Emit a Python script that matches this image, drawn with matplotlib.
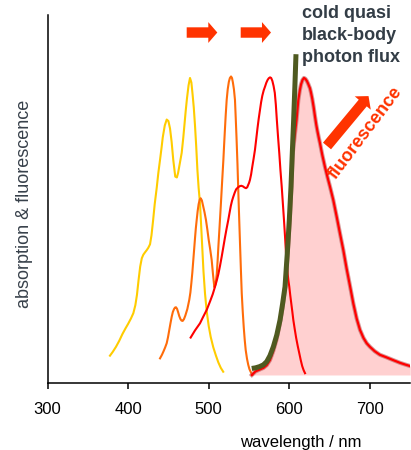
import matplotlib
matplotlib.use("Agg")
import matplotlib.pyplot as plt
from matplotlib.patches import FancyArrowPatch

plt.rcParams['font.family'] = ['Liberation Sans', 'DejaVu Sans']

# ---------------- data ----------------
yellow_x = [377.5, 381, 385, 389, 393, 397, 400, 403.5, 406.5, 409, 411, 413, 415, 417,
            418.9, 421, 423, 425, 427.2, 429, 431, 433, 435.5, 437.5, 439.6, 441.5, 443,
            445.5, 447.9, 450, 452, 454, 456, 458.5, 460.5, 462, 464, 466.5, 468.5, 470,
            471.5, 473, 475, 476.8, 478.5, 480, 481.5, 483, 484.5, 486, 487.5, 489.2,
            490.5, 492, 493.5, 495.4, 497.5, 500, 502.5, 505.7, 509, 512, 515, 518]
yellow_y = [0.065, 0.078, 0.095, 0.115, 0.138, 0.158, 0.172, 0.19, 0.208, 0.235, 0.27,
            0.32, 0.365, 0.393, 0.405, 0.413, 0.42, 0.428, 0.44, 0.47, 0.52, 0.575, 0.63,
            0.68, 0.724, 0.765, 0.80, 0.84, 0.86, 0.855, 0.83, 0.785, 0.725, 0.668, 0.665,
            0.68, 0.71, 0.748, 0.8, 0.845, 0.89, 0.93, 0.975, 1.0, 0.985, 0.945, 0.9, 0.84,
            0.77, 0.69, 0.63, 0.578, 0.51, 0.43, 0.35, 0.275, 0.215, 0.165, 0.128, 0.093,
            0.065, 0.042, 0.024, 0.011]

orange_x = [439.6, 442, 444, 446, 447.9, 449.5, 451, 452.5, 454.1, 455.5, 457, 458.2,
            459.4, 460.7, 462, 463.5, 465, 466.3, 467.7, 469.3, 471, 473.5, 475.9, 477.3,
            478.5, 479.7, 480.9, 482, 483, 484, 485.1, 486.3, 487.5, 488.8, 490, 491.5,
            493, 494.8, 496.6, 498.3, 500, 502, 503.7, 505.3, 507, 508.5, 510, 511, 512,
            513.5, 515, 516.6, 518.2, 519.1, 520, 521.1, 522.3, 523.6, 525, 526.3, 527.7,
            528.9, 530, 531.3, 532.6, 533.5, 534.5, 535.7, 536.8, 537.9, 539, 540, 541,
            542.2, 543.5, 544.7, 545.9, 547.5, 549, 550.5, 552, 554]
orange_y = [0.056, 0.068, 0.08, 0.093, 0.107, 0.127, 0.15, 0.173, 0.196, 0.212, 0.222,
            0.227, 0.228, 0.223, 0.212, 0.198, 0.188, 0.183, 0.182, 0.188, 0.2, 0.222,
            0.253, 0.278, 0.31, 0.345, 0.387, 0.425, 0.46, 0.493, 0.522, 0.552, 0.575,
            0.59, 0.595, 0.588, 0.57, 0.548, 0.522, 0.49, 0.455, 0.42, 0.387, 0.34, 0.295,
            0.305, 0.34, 0.382, 0.432, 0.5, 0.57, 0.648, 0.724, 0.773, 0.82, 0.875, 0.926,
            0.962, 0.987, 1.0, 1.005, 1.0, 0.985, 0.962, 0.926, 0.868, 0.8, 0.71, 0.612,
            0.52, 0.43, 0.35, 0.275, 0.215, 0.16, 0.118, 0.084, 0.055, 0.035, 0.02, 0.011,
            0.0]

red_x = [477.6, 483, 489.2, 493, 497.5, 502, 505, 507.8, 510, 512, 514, 516.1, 518,
         520, 522, 524.3, 526, 527.5, 529, 530.5, 532.3, 534, 536.5, 538.8, 540.5, 542.5,
         544.5, 546.3, 547.8, 549, 550.1, 551.2, 552.6, 554, 555.7, 557.4, 559, 560.5,
         562, 563.6, 565, 566.5, 568.2, 569.9, 571.5, 573, 574.5, 576.1, 577.5, 579,
         580.5, 582, 583.3, 584.5, 586, 587.6, 589, 590.6, 592, 593.4, 594.7, 595.9, 597,
         598, 599, 600, 601.2, 602.5, 603.8, 605, 606.7, 608.5, 610.5, 612.4, 614.2, 616,
         617.8, 619.5]
red_y = [0.126, 0.15, 0.174, 0.195, 0.219, 0.25, 0.272, 0.297, 0.318, 0.34, 0.367, 0.398,
         0.428, 0.46, 0.49, 0.522, 0.548, 0.57, 0.587, 0.60, 0.614, 0.625, 0.632, 0.636,
         0.637, 0.635, 0.631, 0.629, 0.632, 0.64, 0.647, 0.657, 0.675, 0.70, 0.728, 0.758,
         0.795, 0.83, 0.862, 0.892, 0.918, 0.94, 0.958, 0.971, 0.984, 0.993, 0.999, 1.002,
         1.0, 0.99, 0.973, 0.95, 0.91, 0.86, 0.803, 0.746, 0.69, 0.634, 0.578, 0.522,
         0.466, 0.41, 0.372, 0.34, 0.316, 0.297, 0.268, 0.24, 0.212, 0.185, 0.155, 0.125,
         0.097, 0.073, 0.05, 0.03, 0.016, 0.006]

fluo_x = [553.5, 558, 563, 568, 572, 576, 580, 584, 588, 591.5, 595, 598, 600.5, 602.5,
          604, 606.5, 609, 611.2, 613, 614.5, 616.3, 618.2, 620, 621.8, 623.5, 625.7,
          627, 628.5, 630.2, 631.9, 633.5, 635, 636.5, 638.1, 641, 644.3, 647.5, 650.5,
          654.5, 658.8, 663, 667, 671, 675.3, 679.5, 683.6, 687.7, 692, 696, 700, 706,
          712.4, 720, 729, 737.3, 744, 750]
fluo_y = [0.0, 0.012, 0.018, 0.024, 0.033, 0.05, 0.08, 0.118, 0.17, 0.225, 0.3, 0.41,
          0.52, 0.63, 0.74, 0.8, 0.86, 0.926, 0.958, 0.978, 0.993, 1.0, 0.997, 0.99,
          0.98, 0.965, 0.95, 0.93, 0.902, 0.87, 0.842, 0.82, 0.8, 0.78, 0.74, 0.70, 0.665,
          0.634, 0.59, 0.533, 0.475, 0.421, 0.36, 0.3, 0.24, 0.19, 0.152, 0.125, 0.107,
          0.095, 0.08, 0.068, 0.06, 0.05, 0.041, 0.035, 0.03]

bb_x = [553.4, 558, 563, 567.8, 572, 576, 580.2, 584.5, 588.5, 591.7, 594.7, 597.5,
        600, 602.1, 603.7, 605.4, 606.9, 608.3]
bb_y = [0.022, 0.024, 0.028, 0.034, 0.045, 0.065, 0.095, 0.135, 0.185, 0.24, 0.297,
        0.41, 0.522, 0.634, 0.746, 0.859, 0.97, 1.08]

xticks = [300, 400, 500, 600, 700]
bb_label = ["cold quasi", "black-body", "photon flux"]

# ---------------- figure ----------------
W, H = 411, 450
fig = plt.figure(figsize=(W / 100, H / 100), dpi=100)
ax = fig.add_axes([47.5 / W, 1 - 383 / H, (410.2 - 47.5) / W, (383 - 15) / H])
ax.set_xlim(300, 750)
ax.set_ylim(-0.027, 1.212)

ax.fill_between(fluo_x, fluo_y, 0, color='#ffd0d0', lw=0, zorder=1)
ax.plot(yellow_x, yellow_y, color='#ffcc00', lw=1.5, zorder=2)
ax.plot(orange_x, orange_y, color='#ff6c0a', lw=1.5, zorder=2)
ax.plot(red_x, red_y, color='#ff0000', lw=1.5, zorder=3)
ax.plot(fluo_x, fluo_y, color='#b84a4a', lw=3.0, alpha=0.55, zorder=3)
ax.plot(fluo_x, fluo_y, color='#ff0000', lw=1.6, zorder=4)
ax.plot(bb_x, bb_y, color='#4f5a20', lw=3.6, zorder=5, solid_capstyle='butt')

# arrows
arrow_color = '#ff3300'
style = 'simple,head_width=15,head_length=6.5,tail_width=7.5'
for (x0, x1) in [(472.7, 510.7), (539.7, 577.3)]:
    ax.add_patch(FancyArrowPatch((x0, 1.153), (x1, 1.153), arrowstyle=style,
                                 mutation_scale=1, color=arrow_color, lw=0,
                                 shrinkA=0, shrinkB=0, clip_on=False, zorder=6))
ax.add_patch(FancyArrowPatch((646.8, 0.771), (698.3, 0.939), arrowstyle=style,
                             mutation_scale=1, color=arrow_color, lw=0,
                             shrinkA=0, shrinkB=0, clip_on=False, zorder=6))

ax.text(694, 0.815, 'fluorescence', rotation=53, rotation_mode='anchor',
        ha='center', va='center', fontsize=13, fontweight='bold', color=arrow_color,
        zorder=7)

for label, yb in zip(bb_label, [1.201, 1.128, 1.055]):
    ax.text(616.1, yb, label, ha='left', va='baseline', fontsize=13,
            fontweight='bold', color='#333d46', clip_on=False, zorder=7)

# axes styling
for s in ['top', 'right']:
    ax.spines[s].set_visible(False)
for s in ['left', 'bottom']:
    ax.spines[s].set_linewidth(1.1)
ax.set_yticks([])
ax.set_xticks(xticks)
ax.set_xticklabels([str(t) for t in xticks])
ax.tick_params(axis='x', direction='out', length=4.3, width=1.1, pad=9.5,
               labelsize=12, colors='black')

ax.set_xlabel('wavelength / nm', fontsize=12, color='black')
ax.xaxis.set_label_coords(0.699, -0.142)
ax.set_ylabel('absorption & fluorescence', fontsize=13, color='#37404a')
ax.yaxis.set_label_coords(-0.0386, 0.486)

fig.savefig('out.png', dpi=100)
